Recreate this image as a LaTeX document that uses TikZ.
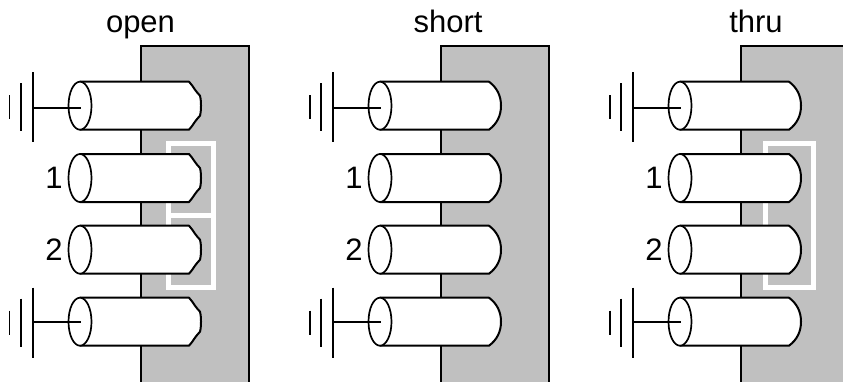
\documentclass[tikz,border=0pt]{standalone}
\usepackage{fontspec}
\setmainfont{Liberation Sans}
\tikzset{
  line/.style={line width=2pt,black},
  thinline/.style={line width=1.7pt,black},
  board/.style={line,fill=boardgray},
  coaxbody/.style={line,fill=white,line join=round},
  cal/.style={line width=5pt,white,line join=miter},
  lbl/.style={font=\fontsize{31}{31}\selectfont,anchor=base,inner sep=0pt,text=black},
}
\definecolor{boardgray}{RGB}{192,192,192}
\newcommand{\coaxsmooth}[1]{%
  \begin{scope}[shift={(0,#1)}]
    \draw[coaxbody] (80,-24) -- (189,-24) .. controls (197,-18) and (201,-10) .. (201,0)
      .. controls (201,10) and (197,18) .. (189,24) -- (80,24) -- cycle;
    \draw[thinline,fill=white] (80,0) ellipse [x radius=11.5,y radius=24];
  \end{scope}}
\newcommand{\coaxwavy}[1]{%
  \begin{scope}[shift={(0,#1)}]
    \draw[coaxbody] (80,-24) -- (189,-24) .. controls (191,-22) and (193,-19) .. (195,-16)
      .. controls (196,-13.5) and (198.5,-12.5) .. (200,-10)
      .. controls (201,-6) and (201,-2) .. (201,0)
      .. controls (201,2) and (201,6) .. (200,10)
      .. controls (198.5,12.5) and (196,13.5) .. (195,16)
      .. controls (193,19) and (191,22) .. (189,24) -- (80,24) -- cycle;
    \draw[thinline,fill=white] (80,0) ellipse [x radius=11.5,y radius=24];
  \end{scope}}
\newcommand{\groundsym}[4]{% #1 name, #2 stem y, #3 bar centre y, #4 short-bar style
  \coordinate (#1bar) at (33,#2);
  \coordinate (#1tip) at (81,#2);
  \draw[line] (33,#3-35) -- (33,#3+35);
  \draw[line] (21,#3-24) -- (21,#3+24);
  \draw[#4] (9.5,#3-12) -- (9.5,#3+12);}
\begin{document}
\begin{tikzpicture}[x=1pt,y=-1pt]
  \clip (0,0) rectangle (843,381);
  \fill[white] (0,0) rectangle (843,381);
  % boards
  \draw[board] (141,400) -- (141,46) -- (249,46) -- (249,400);
  \draw[board] (441,400) -- (441,46) -- (549,46) -- (549,400);
  \draw[board] (741,400) -- (741,46) -- (860,46) -- (860,400);
  % calibration standards
  \draw[cal] (168,143) rectangle (213,287);
  \draw[cal] (168,215) -- (213,215);
  \draw[cal] (765,143) rectangle (813,287);
  % titles
  \node[lbl] (topen) at (140.5,32.5) {open};
  \node[lbl] (tshort) at (448,32.5) {short};
  \node[lbl] (tthru) at (756,32.5) {thru};
  % panel open
  \begin{scope}
    \groundsym{a}{108}{107}{line width=1.2pt}
    \groundsym{b}{322}{322.5}{line width=1.2pt}
    \coaxwavy{105.7}\coaxwavy{178}\coaxwavy{249.7}\coaxwavy{321.7}
    \draw[line] (abar) -- (atip);
    \draw[line] (bbar) -- (btip);
    \node[lbl] (o1) at (54,188.5) {1};
    \node[lbl] (o2) at (54,260.5) {2};
  \end{scope}
  % panel short
  \begin{scope}[xshift=300pt]
    \groundsym{c}{108}{107}{line}
    \groundsym{d}{322}{322.5}{line}
    \coaxsmooth{105.7}\coaxsmooth{178}\coaxsmooth{249.7}\coaxsmooth{321.7}
    \draw[line] (cbar) -- (ctip);
    \draw[line] (dbar) -- (dtip);
    \node[lbl] (s1) at (54,188.5) {1};
    \node[lbl] (s2) at (54,260.5) {2};
  \end{scope}
  % panel thru
  \begin{scope}[xshift=600pt]
    \groundsym{e}{108}{107}{line}
    \groundsym{f}{322}{322.5}{line}
    \coaxsmooth{105.7}\coaxsmooth{178}\coaxsmooth{249.7}\coaxsmooth{321.7}
    \draw[line] (ebar) -- (etip);
    \draw[line] (fbar) -- (ftip);
    \node[lbl] (t1) at (54,188.5) {1};
    \node[lbl] (t2) at (54,260.5) {2};
  \end{scope}
\end{tikzpicture}
\end{document}
